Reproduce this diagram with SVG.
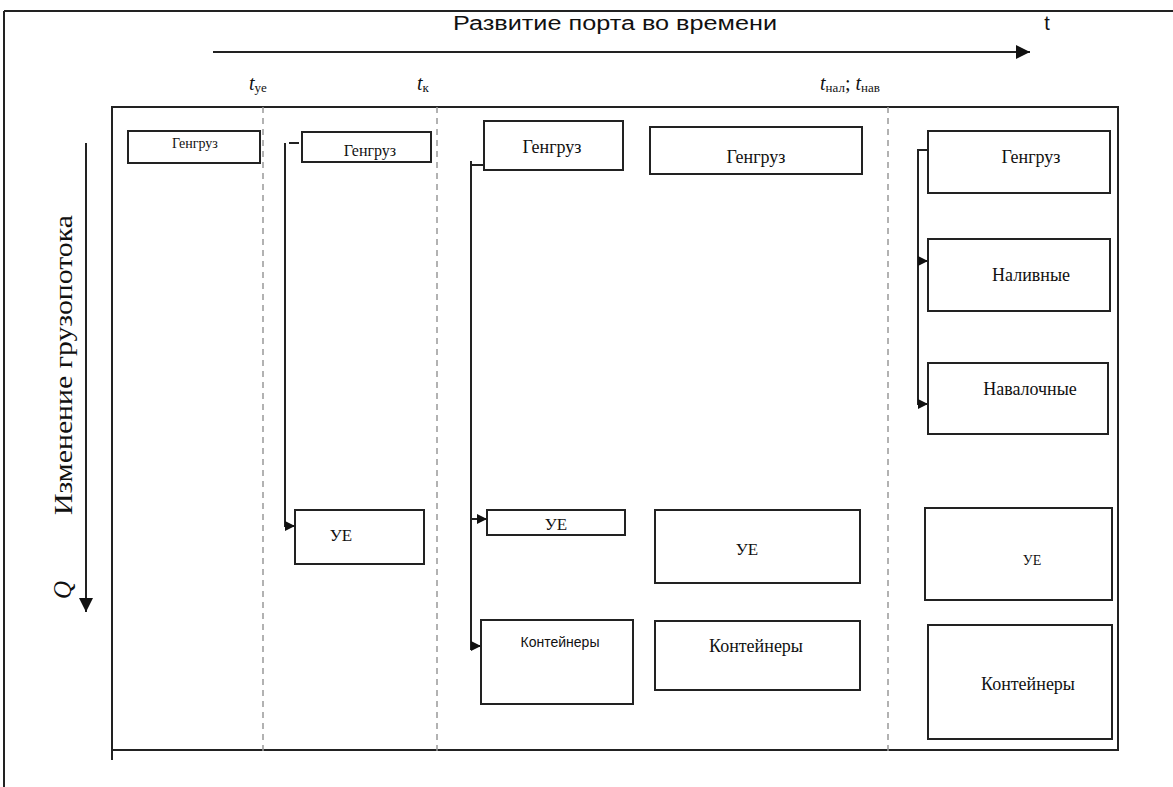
<svg xmlns="http://www.w3.org/2000/svg" width="1173" height="787" viewBox="0 0 1173 787">
<style>
.box{fill:#fff;stroke:#222;stroke-width:2}
.ln{stroke:#222;stroke-width:2;fill:none}
.dash{stroke:#999;stroke-width:1.5;stroke-dasharray:6,5;fill:none}
.serif{font-family:"Liberation Serif","DejaVu Serif",serif;fill:#111}
.sans{font-family:"Liberation Sans",Arial,sans-serif;fill:#111}
</style>
<defs>
<marker id="ah" viewBox="0 0 10 10" refX="10" refY="5" markerWidth="10" markerHeight="10" markerUnits="userSpaceOnUse" orient="auto"><path d="M0,0 L10,5 L0,10 z" fill="#111"/></marker>
<marker id="ahBig" viewBox="0 0 10 10" refX="10" refY="5" markerWidth="14" markerHeight="14" markerUnits="userSpaceOnUse" orient="auto"><path d="M0,0 L10,5 L0,10 z" fill="#111"/></marker>
</defs>
<rect width="1173" height="787" fill="#fff"/>
<g id="frame">
<line class="ln" x1="4" y1="11" x2="1173" y2="11"/>
<line class="ln" x1="4" y1="11" x2="4" y2="787"/>
<rect x="112" y="107" width="1006" height="643" fill="none" stroke="#222" stroke-width="2"/>
<line class="ln" x1="112" y1="750" x2="112" y2="760"/>
</g>
<g id="axes">
<text class="sans" x="615" y="30" font-size="20" text-anchor="middle" textLength="324" lengthAdjust="spacingAndGlyphs">Развитие порта во времени</text>
<text class="sans" x="1047" y="30" font-size="20" text-anchor="middle">t</text>
<line class="ln" x1="213" y1="52" x2="1030" y2="52" marker-end="url(#ahBig)"/>
<text class="serif" x="249" y="90" font-size="20"><tspan font-style="italic">t</tspan><tspan font-size="13" dy="2">уе</tspan></text>
<text class="serif" x="417" y="90" font-size="20"><tspan font-style="italic">t</tspan><tspan font-size="13" dy="2">к</tspan></text>
<text class="serif" x="820" y="90" font-size="20"><tspan font-style="italic">t</tspan><tspan font-size="13" dy="2">нал</tspan><tspan dy="-2">; </tspan><tspan font-style="italic">t</tspan><tspan font-size="13" dy="2">нав</tspan></text>
<line class="ln" x1="86" y1="143" x2="86" y2="612" marker-end="url(#ahBig)"/>
<text class="serif" font-size="25" text-anchor="middle" textLength="300" lengthAdjust="spacingAndGlyphs" transform="translate(72,365) rotate(-90)">Изменение грузопотока</text>
<text class="serif" font-size="25" font-style="italic" text-anchor="middle" transform="translate(71,590) rotate(-90)">Q</text>
</g>
<g id="dividers">
<line class="dash" x1="263" y1="107" x2="263" y2="752"/>
<line class="dash" x1="437" y1="107" x2="437" y2="752"/>
<line class="dash" x1="888" y1="107" x2="888" y2="752"/>
</g>
<g id="connectors">
<line class="ln" x1="289" y1="143" x2="299" y2="143"/>
<path class="ln" d="M285,143 V526 H295" marker-end="url(#ah)"/>
<path class="ln" d="M471,161 V650"/>
<line class="ln" x1="471" y1="165" x2="487" y2="165"/>
<path class="ln" d="M471,519 H487" marker-end="url(#ah)"/>
<path class="ln" d="M471,646 H481" marker-end="url(#ah)"/>
<path class="ln" d="M928,150 H918 V404 H928" marker-end="url(#ah)"/>
<path class="ln" d="M918,261 H928" marker-end="url(#ah)"/>
</g>
<g id="n1"><rect class="box" x="128" y="131" width="132" height="32"/><text class="serif" x="195" y="148" font-size="14" text-anchor="middle">Генгруз</text></g>
<g id="n2"><rect class="box" x="302" y="132" width="129" height="30"/><text class="serif" x="370" y="156" font-size="16" text-anchor="middle">Генгруз</text></g>
<g id="n3"><rect class="box" x="295" y="510" width="129" height="54"/><text class="serif" x="341" y="541" font-size="17" text-anchor="middle">УЕ</text></g>
<g id="n4"><rect class="box" x="484" y="121" width="139" height="49"/><text class="serif" x="552" y="153" font-size="18" text-anchor="middle">Генгруз</text></g>
<g id="n5"><rect class="box" x="487" y="510" width="138" height="25"/><text class="serif" x="556" y="530" font-size="17" text-anchor="middle">УЕ</text></g>
<g id="n6"><rect class="box" x="481" y="620" width="152" height="84"/><text class="sans" x="560" y="647" font-size="14" text-anchor="middle">Контейнеры</text></g>
<g id="n7"><rect class="box" x="650" y="127" width="212" height="47"/><text class="serif" x="756" y="163" font-size="18" text-anchor="middle">Генгруз</text></g>
<g id="n8"><rect class="box" x="655" y="510" width="205" height="73"/><text class="serif" x="747" y="555" font-size="17" text-anchor="middle">УЕ</text></g>
<g id="n9"><rect class="box" x="655" y="621" width="205" height="69"/><text class="serif" x="756" y="652" font-size="18" text-anchor="middle">Контейнеры</text></g>
<g id="n10"><rect class="box" x="928" y="131" width="182" height="62"/><text class="serif" x="1031" y="163" font-size="18" text-anchor="middle">Генгруз</text></g>
<g id="n11"><rect class="box" x="928" y="239" width="182" height="72"/><text class="serif" x="1031" y="281" font-size="18" text-anchor="middle">Наливные</text></g>
<g id="n12"><rect class="box" x="928" y="363" width="180" height="71"/><text class="serif" x="1030" y="395" font-size="18" text-anchor="middle">Навалочные</text></g>
<g id="n13"><rect class="box" x="925" y="508" width="187" height="92"/><text class="serif" x="1032" y="565" font-size="14" text-anchor="middle">УЕ</text></g>
<g id="n14"><rect class="box" x="928" y="625" width="184" height="114"/><text class="serif" x="1028" y="690" font-size="18" text-anchor="middle">Контейнеры</text></g>
</svg>
